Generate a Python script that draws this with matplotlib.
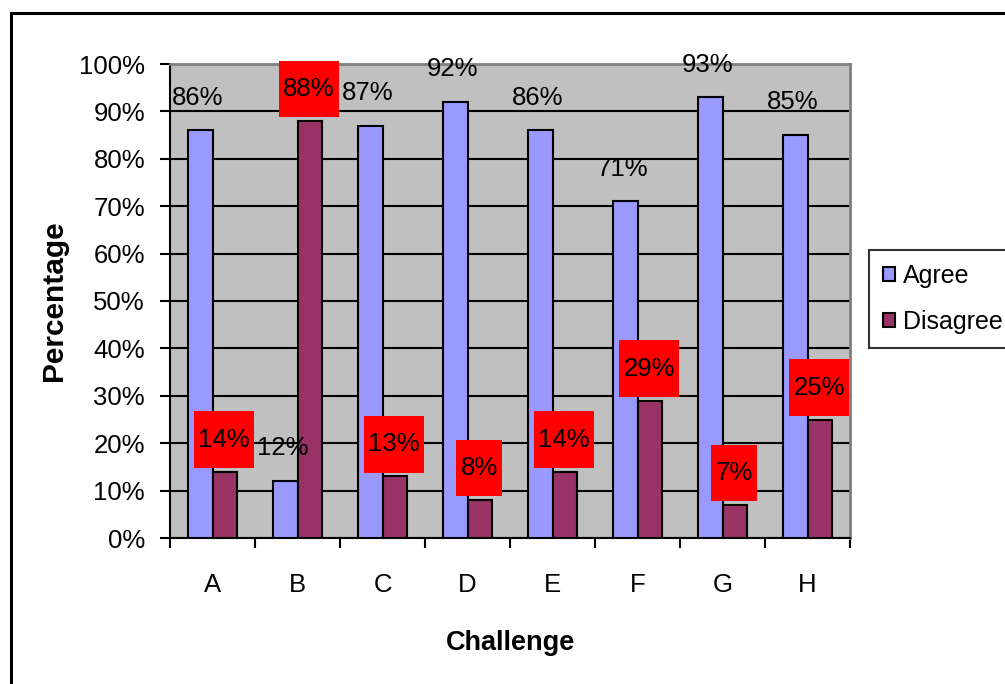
import numpy as np
import matplotlib
matplotlib.use("Agg")
import matplotlib.pyplot as plt
from matplotlib.path import Path
from matplotlib.patches import Rectangle
from matplotlib.ticker import PercentFormatter, FixedLocator

plt.rcParams['font.family'] = ['Liberation Sans', 'DejaVu Sans']

challenges = ['A', 'B', 'C', 'D', 'E', 'F', 'G', 'H']
agree = [86, 12, 87, 92, 86, 71, 93, 85]
disagree = [14, 88, 13, 8, 14, 29, 7, 25]

agree_col = '#9999FF'
disagree_col = '#993366'
fs = 18.5


def label_box(x0, y0, width, height, mutation_size):
    # red box: fixed height, a little padding left and right
    padx = 0.18 * mutation_size
    hh = 1.1 * mutation_size
    cy = y0 + height / 2
    verts = [(x0 - padx, cy - hh), (x0 + width + padx, cy - hh),
             (x0 + width + padx, cy + hh), (x0 - padx, cy + hh),
             (x0 - padx, cy - hh)]
    return Path(verts, closed=True)


fig = plt.figure(figsize=(10.05, 6.84), dpi=100)
ax = fig.add_axes([170 / 1005, 146 / 684, 680 / 1005, 474 / 684])
ax.set_facecolor('#C0C0C0')

x = np.arange(len(challenges))
w = 0.294
b1 = ax.bar(x - w / 2, agree, w, color=agree_col, edgecolor='black', lw=1.5,
            label='Agree', zorder=3)
b2 = ax.bar(x + w / 2, disagree, w, color=disagree_col, edgecolor='black', lw=1.5,
            label='Disagree', zorder=3)

for xi, v in zip(x, agree):
    ax.annotate(f'{v}%', (xi - w / 2, v), xytext=(-1.5, 23.5), textcoords='offset points',
                ha='center', va='center', fontsize=fs, zorder=5)
for xi, v in zip(x, disagree):
    ax.annotate(f'{v}%', (xi + w / 2, v), xytext=(-0.7, 23), textcoords='offset points',
                ha='center', va='center', fontsize=fs, zorder=5,
                bbox=dict(boxstyle=label_box, fc='red', ec='none'))

ax.set_xlim(-0.5, len(challenges) - 0.5)
ax.set_ylim(0, 100)
ax.yaxis.set_major_locator(FixedLocator(np.arange(0, 101, 10)))
ax.yaxis.set_major_formatter(PercentFormatter(decimals=0))
ax.set_xticks(x)
ax.set_xticklabels(challenges)
ax.xaxis.set_minor_locator(FixedLocator(np.arange(-0.5, len(challenges), 1.0)))
ax.tick_params(axis='x', which='major', length=0, pad=25, labelsize=fs)
ax.tick_params(axis='x', which='minor', length=7, width=1.5, color='black')
ax.tick_params(axis='y', length=7, width=1.5, pad=11, labelsize=fs)

ax.yaxis.grid(True, color='black', lw=1.5)
ax.set_axisbelow(True)
for s in ['top', 'right']:
    ax.spines[s].set_color('#808080')
    ax.spines[s].set_linewidth(2)
for s in ['left', 'bottom']:
    ax.spines[s].set_color('black')
    ax.spines[s].set_linewidth(1.5)

ax.set_xlabel('Challenge', fontsize=19.5, fontweight='bold', labelpad=24)
ax.set_ylabel('Percentage', fontsize=21.5, fontweight='bold', labelpad=8)

leg = fig.legend(loc='upper left', bbox_to_anchor=(869 / 1005, 1 - 250 / 684),
                 bbox_transform=fig.transFigure, fontsize=18, frameon=True,
                 fancybox=False, borderaxespad=0, handlelength=0.5,
                 handleheight=0.5, handletextpad=0.3, labelspacing=0.9,
                 borderpad=0.55)
leg.get_frame().set_edgecolor('black')
leg.get_frame().set_linewidth(1.5)

# outer chart border
fig.patches.append(Rectangle((11 / 1005, -0.1), 1.0, 1 - 13 / 684 + 0.1, fill=False,
                             ec='black', lw=2.2, transform=fig.transFigure, figure=fig))

fig.savefig('out.png', dpi=100)
